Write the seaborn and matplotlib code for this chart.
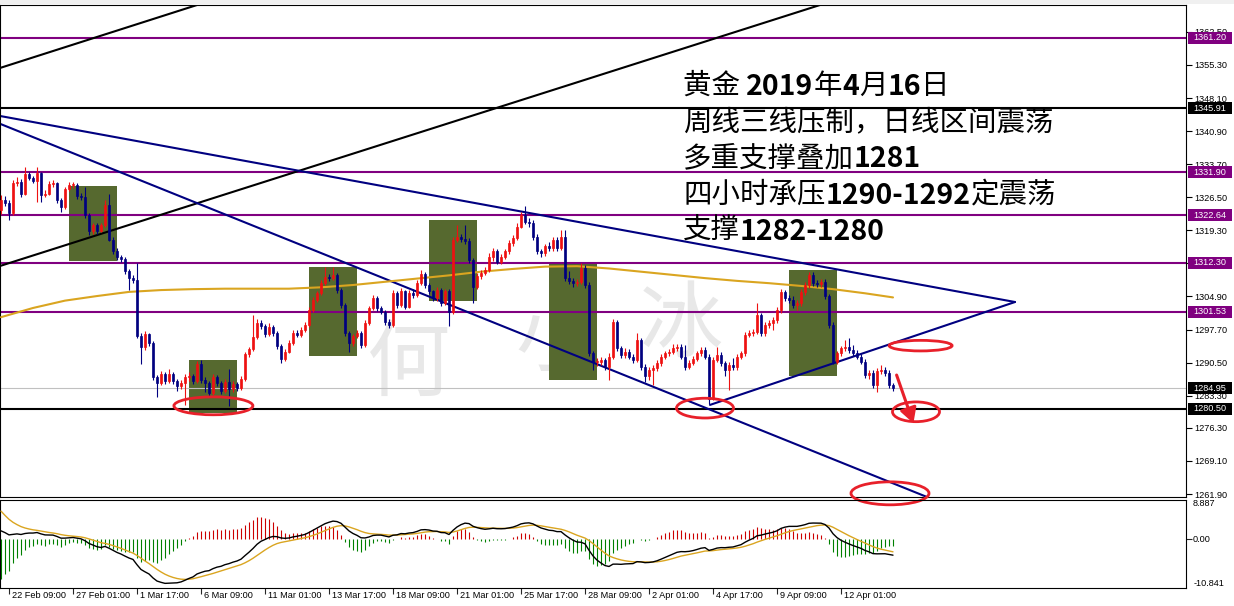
import numpy as np
import pandas as pd
import matplotlib
matplotlib.use("Agg")
import matplotlib.pyplot as plt
import matplotlib.transforms as mtransforms
from matplotlib.patches import Rectangle, Ellipse, FancyArrowPatch
import seaborn as sns

# ---------------------------------------------------------------- data
# XAUUSD H4 candles, 22 Feb 2019 05:00 .. 16 Apr 2019 01:00 (bar index 0..223)
first_open = 1323.7
close = [
    1326.0, 1325.2, 1323.0, 1329.5, 1329.9, 1327.3, 1331.6, 1330.8, 1330.1, 1331.7,
    1327.0, 1327.3, 1329.4, 1329.5, 1326.0, 1324.4, 1328.2, 1329.1, 1329.2, 1326.8,
    1326.5, 1322.6, 1319.1, 1320.4, 1319.2, 1320.4, 1324.8, 1317.3, 1314.9, 1313.4,
    1313.0, 1310.4, 1309.0, 1308.6, 1296.3, 1293.8, 1296.7, 1294.8, 1287.3, 1286.1,
    1288.0, 1286.5, 1288.0, 1286.5, 1285.4, 1286.0, 1287.4, 1287.6, 1286.5, 1290.2,
    1286.8, 1286.1, 1283.9, 1287.3, 1286.1, 1284.3, 1286.2, 1284.7, 1285.8, 1285.0,
    1286.9, 1292.3, 1293.4, 1296.0, 1299.2, 1298.4, 1296.7, 1298.2, 1297.0, 1294.1,
    1291.2, 1292.9, 1294.8, 1297.0, 1296.6, 1297.6, 1298.7, 1302.0, 1304.1, 1305.6,
    1307.8, 1309.2, 1308.9, 1309.6, 1306.3, 1303.1, 1296.9, 1294.7, 1296.2, 1296.9,
    1294.3, 1299.1, 1302.3, 1304.5, 1302.3, 1301.6, 1299.4, 1298.7, 1305.6, 1303.1,
    1306.0, 1302.7, 1305.6, 1305.2, 1307.8, 1309.9, 1307.4, 1306.0, 1304.5, 1306.3,
    1303.4, 1306.0, 1301.6, 1317.2, 1317.9, 1317.4, 1317.0, 1312.9, 1307.0, 1309.4,
    1310.0, 1310.7, 1313.6, 1314.7, 1312.5, 1313.6, 1314.7, 1316.5, 1317.6, 1320.1,
    1322.6, 1321.2, 1320.8, 1317.9, 1314.7, 1314.3, 1315.8, 1315.4, 1317.2, 1315.4,
    1317.9, 1308.9, 1308.3, 1307.8, 1308.1, 1311.2, 1307.4, 1292.5, 1290.6, 1290.7,
    1291.0, 1289.6, 1291.8, 1299.4, 1293.6, 1292.2, 1292.9, 1291.8, 1291.1, 1295.4,
    1289.6, 1287.5, 1288.9, 1289.3, 1290.4, 1291.8, 1292.5, 1292.9, 1293.6, 1294.0,
    1291.8, 1289.6, 1290.4, 1291.4, 1292.5, 1293.3, 1291.8, 1282.6, 1291.1, 1292.2,
    1290.4, 1288.9, 1290.0, 1289.6, 1291.8, 1292.5, 1296.5, 1296.9, 1297.2, 1300.9,
    1296.9, 1298.7, 1299.1, 1299.8, 1302.0, 1305.9, 1304.5, 1304.2, 1303.1, 1303.4,
    1305.9, 1307.4, 1309.6, 1307.8, 1307.6, 1308.1, 1304.9, 1298.7, 1290.7, 1292.5,
    1293.6, 1294.0, 1293.3, 1292.6, 1291.8, 1290.7, 1287.8, 1288.2, 1285.6, 1288.6,
    1288.9, 1288.2, 1285.6, 1284.95,
]
high = [
    1327.0, 1326.8, 1326.0, 1330.2, 1331.0, 1330.4, 1333.1, 1332.0, 1331.2, 1333.1,
    1332.0, 1328.0, 1330.0, 1330.3, 1329.8, 1326.4, 1328.8, 1329.8, 1329.9, 1329.5,
    1327.4, 1328.8, 1323.0, 1321.0, 1320.8, 1321.0, 1325.8, 1327.3, 1317.8, 1315.4,
    1314.0, 1313.4, 1310.8, 1309.6, 1312.1, 1297.0, 1297.3, 1297.0, 1295.2, 1287.8,
    1288.6, 1288.5, 1289.2, 1288.4, 1287.0, 1286.8, 1288.0, 1288.4, 1288.0, 1290.8,
    1291.0, 1287.3, 1286.6, 1288.0, 1287.8, 1286.6, 1286.9, 1289.2, 1286.4, 1286.3,
    1287.6, 1292.9, 1294.0, 1300.8, 1300.0, 1299.8, 1298.9, 1299.2, 1298.7, 1297.4,
    1294.5, 1293.5, 1295.5, 1297.6, 1297.6, 1298.2, 1299.4, 1302.6, 1304.8, 1306.2,
    1308.4, 1311.4, 1309.8, 1311.4, 1310.0, 1306.8, 1303.5, 1297.4, 1296.8, 1297.6,
    1297.4, 1299.7, 1302.9, 1305.3, 1304.9, 1302.8, 1302.0, 1299.9, 1306.3, 1306.0,
    1306.7, 1306.4, 1306.3, 1306.6, 1308.4, 1310.6, 1310.3, 1307.9, 1306.4, 1307.0,
    1306.8, 1306.6, 1306.5, 1317.9, 1320.5, 1318.5, 1320.5, 1317.6, 1313.2, 1310.0,
    1310.6, 1311.4, 1314.4, 1315.4, 1315.2, 1314.2, 1315.3, 1317.2, 1318.3, 1320.8,
    1323.4, 1324.5, 1322.0, 1321.6, 1318.4, 1315.3, 1316.4, 1316.8, 1317.9, 1317.8,
    1319.4, 1319.4, 1310.4, 1309.0, 1308.8, 1312.3, 1311.8, 1308.0, 1293.0, 1291.6,
    1291.8, 1291.6, 1292.5, 1300.1, 1299.8, 1294.2, 1293.6, 1293.5, 1292.4, 1296.9,
    1295.9, 1290.2, 1289.5, 1290.0, 1291.0, 1292.4, 1293.1, 1293.5, 1294.6, 1294.6,
    1294.6, 1294.3, 1291.0, 1292.0, 1293.1, 1294.0, 1293.9, 1292.3, 1291.7, 1294.0,
    1292.8, 1290.9, 1290.7, 1291.5, 1292.4, 1293.1, 1297.1, 1297.5, 1297.8, 1303.4,
    1301.4, 1299.3, 1299.7, 1300.4, 1302.7, 1306.6, 1306.4, 1305.2, 1305.0, 1304.1,
    1306.5, 1308.0, 1310.3, 1310.2, 1308.6, 1308.8, 1308.7, 1305.5, 1299.3, 1293.1,
    1294.2, 1295.5, 1295.8, 1294.3, 1293.2, 1292.4, 1291.3, 1288.9, 1288.8, 1289.3,
    1290.0, 1289.5, 1288.8, 1286.0,
]
low = [
    1322.8, 1324.5, 1321.5, 1322.6, 1329.0, 1326.6, 1327.0, 1330.2, 1329.5, 1325.5,
    1325.4, 1326.5, 1327.0, 1328.8, 1325.3, 1323.3, 1324.0, 1327.8, 1328.6, 1326.2,
    1325.9, 1322.0, 1318.2, 1318.6, 1318.5, 1318.9, 1320.0, 1317.0, 1314.2, 1312.8,
    1312.4, 1309.8, 1306.3, 1307.9, 1295.9, 1290.3, 1293.3, 1294.2, 1286.8, 1283.1,
    1285.6, 1285.9, 1286.1, 1285.9, 1284.3, 1284.8, 1281.2, 1286.6, 1285.8, 1286.0,
    1286.0, 1284.0, 1283.0, 1283.4, 1285.4, 1283.6, 1283.8, 1281.0, 1284.2, 1284.4,
    1284.6, 1286.5, 1291.8, 1293.0, 1295.6, 1297.8, 1296.0, 1296.3, 1296.4, 1293.5,
    1290.4, 1290.8, 1292.5, 1294.4, 1296.0, 1296.1, 1297.2, 1298.3, 1301.6, 1303.6,
    1305.2, 1307.4, 1308.3, 1308.5, 1305.7, 1302.5, 1296.3, 1292.9, 1294.2, 1295.8,
    1293.7, 1293.9, 1298.7, 1301.9, 1301.7, 1301.0, 1298.8, 1298.0, 1298.3, 1302.5,
    1302.7, 1302.1, 1302.3, 1304.6, 1304.8, 1307.4, 1306.8, 1305.4, 1303.9, 1304.0,
    1302.8, 1303.0, 1298.4, 1301.0, 1316.8, 1316.8, 1316.4, 1312.3, 1303.4, 1306.5,
    1308.8, 1309.5, 1310.2, 1312.6, 1311.9, 1312.0, 1313.1, 1314.2, 1316.0, 1317.2,
    1319.8, 1320.6, 1320.0, 1317.2, 1314.1, 1313.6, 1313.8, 1314.8, 1314.9, 1314.8,
    1315.0, 1308.2, 1307.6, 1307.0, 1307.2, 1307.6, 1306.8, 1292.0, 1288.9, 1289.8,
    1290.0, 1289.0, 1286.7, 1291.2, 1293.0, 1291.6, 1291.6, 1291.2, 1290.4, 1290.6,
    1289.0, 1286.2, 1286.8, 1285.6, 1288.7, 1289.8, 1291.2, 1292.0, 1292.4, 1293.0,
    1291.2, 1289.0, 1289.2, 1289.9, 1290.9, 1292.0, 1291.2, 1281.6, 1282.3, 1290.6,
    1289.8, 1287.5, 1284.6, 1288.8, 1289.0, 1291.2, 1291.9, 1296.0, 1296.4, 1296.8,
    1296.2, 1296.4, 1298.0, 1297.6, 1299.2, 1301.4, 1303.9, 1303.5, 1302.5, 1301.9,
    1302.8, 1305.3, 1306.8, 1307.2, 1306.9, 1306.9, 1304.3, 1298.1, 1290.1, 1290.2,
    1292.0, 1293.0, 1292.7, 1292.0, 1291.2, 1290.1, 1287.2, 1287.0, 1285.0, 1284.2,
    1288.0, 1287.6, 1285.0, 1284.3,
]

# slow moving average, sampled along the window
ma_bar = [0, 8, 16, 24, 32, 40, 48, 56, 64, 72, 80, 88, 96, 104, 112, 120, 128,
          136, 144, 152, 160, 168, 176, 184, 192, 200, 208, 216, 223]
ma_val = [1300.4, 1302.4, 1304.0, 1305.0, 1305.9, 1306.3, 1306.5, 1306.6, 1306.6,
          1306.6, 1306.9, 1307.4, 1308.1, 1308.8, 1309.5, 1310.3, 1310.9, 1311.4,
          1311.5, 1311.0, 1310.3, 1309.6, 1308.9, 1308.3, 1307.8, 1307.2, 1306.5,
          1305.6, 1304.7]

# MACD(12,26,9) state carried in from the bars before the window
ema12_start = 1328.4
ema26_start = 1326.5
signal_start = 6.3
macd_top, macd_bottom = 8.887, -10.841

purple_levels = [1361.20, 1331.90, 1322.64, 1312.30, 1301.53]
black_levels = [1345.91, 1280.50]
bid_price = 1284.95
price_ticks = [1362.50, 1355.30, 1348.10, 1340.90, 1333.70, 1326.50, 1319.30,
               1312.10, 1304.90, 1297.70, 1290.50, 1283.30, 1276.30, 1269.10, 1261.90]

time_labels = ["22 Feb 09:00", "27 Feb 01:00", "1 Mar 17:00", "6 Mar 09:00",
               "11 Mar 01:00", "13 Mar 17:00", "18 Mar 09:00", "21 Mar 01:00",
               "25 Mar 17:00", "28 Mar 09:00", "2 Apr 01:00", "4 Apr 17:00",
               "9 Apr 09:00", "12 Apr 01:00"]
time_label_bar = [2, 18, 34, 50, 66, 82, 98, 114, 130, 146, 162, 178, 194, 210]

# trend lines: (bar, price) pairs
rays = [((-0.25, 1354.65), (49.0, 1368.36), "black"),
        ((-0.25, 1311.54), (204.75, 1368.36), "black"),
        ((-0.25, 1342.50), (231.5, 1261.25), "#000080")]
segments = [((-0.25, 1344.20), (253.5, 1303.70)),
            ((177.25, 1281.30), (253.5, 1303.70))]

# shaded zones: bar_from, bar_to, price_low, price_high
zones = [(17, 29, 1312.63, 1328.96), (47, 59, 1279.54, 1291.08),
         (77, 89, 1291.95, 1311.32), (107, 119, 1303.92, 1321.56),
         (137, 149, 1286.72, 1312.41), (197, 209, 1287.60, 1310.67)]

# red rings: bar, price, width (bars), height (price)
rings = [(53.1, 1281.1, 19.75, 3.9), (176.0, 1280.6, 14.25, 4.3),
         (229.9, 1294.2, 15.75, 2.3), (228.75, 1279.8, 11.75, 4.3),
         (222.25, 1262.05, 19.5, 5.0)]
arrow_from = (223.9, 1287.8)
arrow_to = (228.1, 1277.3)

note_lines = [
    [("黄金 ", False), ("2019", True), ("年", False), ("4", True), ("月", False),
     ("16", True), ("日", False)],
    [("周线三线压制，日线区间震荡", False)],
    [("多重支撑叠加", False), ("1281", True)],
    [("四小时承压", False), ("1290-1292", True), ("定震荡", False)],
    [("支撑", False), ("1282-1280", True)],
]

# ---------------------------------------------------------------- style
sns.set_theme(style="white")
plt.rcParams["font.family"] = ["Liberation Sans", "Noto Sans CJK SC", "DejaVu Sans"]
plt.rcParams["axes.edgecolor"] = "black"
plt.rcParams["axes.linewidth"] = 0.8

W, H = 1234, 606
RED = "#ee1111"
NAVY = "#000080"
PURPLE = "#800080"
GOLD = "#DAA520"
RING = "#e8202a"

fig = plt.figure(figsize=(W / 100, H / 100), dpi=100, facecolor="white")
ax = fig.add_axes([0, 1 - 497 / H, 1186 / W, 492 / H])
ax2 = fig.add_axes([0, 1 - 588 / H, 1186 / W, 88.5 / H])
ax2.patch.set_alpha(0)

# window chrome strip along the top edge
fig.patches.append(Rectangle((0, 1 - 4 / H), 1, 4 / H, transform=fig.transFigure,
                             facecolor="#f0f0f0", edgecolor="none", zorder=0))

bars = np.arange(len(close))
c = np.array(close)
o = np.concatenate([[first_open], c[:-1]])
hi = np.maximum(np.array(high), np.maximum(o, c))
lo = np.minimum(np.array(low), np.minimum(o, c))
up = c >= o
cols = np.where(up, RED, NAVY)

ax.set_xlim(-0.25, 296.25)
ax.set_ylim(1261.25, 1368.36)
ax2.set_xlim(-0.25, 296.25)
ax2.set_ylim(macd_bottom, macd_top)

# zones
for b0, b1, p0, p1 in zones:
    ax.add_patch(Rectangle((b0, p0), b1 - b0, p1 - p0, facecolor="#56692f",
                           edgecolor="none", zorder=1))

# faint signature
for ch, bx, py in [("何", 102, 1290.0), ("小", 139, 1295.5), ("冰", 170, 1298.5)]:
    ax.text(bx, py, ch, fontsize=60, color="#e8e8e8", ha="center", va="center",
            family=["Noto Sans CJK SC"], zorder=0.5)

# horizontal levels
for lv in purple_levels:
    ax.axhline(lv, color=PURPLE, lw=1.5, zorder=2)
for lv in black_levels:
    ax.axhline(lv, color="black", lw=1.5, zorder=2)
ax.axhline(bid_price, color="#c0c0c0", lw=0.8, zorder=2)

# trend lines
for p0, p1, col in rays:
    ax.axline(p0, p1, color=col, lw=1.5, zorder=2)
for p0, p1 in segments:
    ax.plot([p0[0], p1[0]], [p0[1], p1[1]], color=NAVY, lw=1.5, zorder=2)

# moving average
sns.lineplot(x=ma_bar, y=ma_val, ax=ax, color=GOLD, lw=1.5, zorder=3)

# candles
ax.vlines(bars, lo, hi, colors=cols, lw=0.8, zorder=4)
body_lo = np.minimum(o, c)
body_h = np.maximum(np.abs(c - o), 0.2)
ax.bar(bars, body_h, bottom=body_lo, width=0.6, color=cols, edgecolor=cols,
       lw=0.5, zorder=5)

# rings and arrow
for bx, py, bw, ph in rings:
    ax.add_patch(Ellipse((bx, py), bw, ph, facecolor="none", edgecolor=RING,
                         lw=2.0, zorder=7, clip_on=False))
ax.add_patch(FancyArrowPatch(arrow_from, arrow_to,
                             arrowstyle="-|>,head_length=9,head_width=5",
                             color=RING, lw=2.2, zorder=7, clip_on=False,
                             shrinkA=0, shrinkB=0))

# price axis
ax.yaxis.tick_right()
ax.set_yticks(price_ticks)
ax.set_yticklabels([f"{t:.2f}" for t in price_ticks])
ax.tick_params(axis="y", direction="out", length=4, width=0.8, pad=2,
               labelsize=6.6, colors="black", left=False, right=True)
ax.set_xticks([])
ax.set_xlabel("")
ax.set_ylabel("")
for s in ax.spines.values():
    s.set_color("black")
    s.set_linewidth(0.8)

right_tr = mtransforms.blended_transform_factory(ax.transAxes, ax.transData)
box_w = 44 / 1186
box_h = 12 / 4.593
for lv, fc in ([(v, PURPLE) for v in purple_levels] + [(v, "black") for v in black_levels]
               + [(bid_price, "black")]):
    ax.add_patch(Rectangle((1.0017, lv - box_h / 2), box_w, box_h, transform=right_tr,
                           facecolor=fc, edgecolor="none", clip_on=False, zorder=8))
    ax.text(1.0017 + box_w / 2, lv, f"{lv:.2f}", transform=right_tr, ha="center",
            va="center", color="white", fontsize=6.6, zorder=9, clip_on=False)

# annotation block: each row is a chain of regular / bold runs
for i, parts in enumerate(note_lines):
    y_bottom = 101 + 36.2 * i
    prev = None
    for txt, bold in parts:
        kw = dict(fontsize=20.5, family=["Noto Sans CJK SC", "DejaVu Sans"],
                  weight="bold" if bold else "normal", color="black", zorder=10)
        if prev is None:
            prev = fig.text(683 / W, 1 - y_bottom / H, txt, ha="left", va="bottom", **kw)
        else:
            prev = ax.annotate(txt, xy=(1, 0), xycoords=prev, ha="left", va="bottom",
                               annotation_clip=False, **kw)

# MACD panel
e12, e26 = ema12_start, ema26_start
dif = [e12 - e26]
for px in c[1:]:
    e12 = e12 + (2 / 13) * (px - e12)
    e26 = e26 + (2 / 27) * (px - e26)
    dif.append(e12 - e26)
dif = np.array(dif)
dea = [signal_start]
for v in dif[1:]:
    dea.append(dea[-1] + 0.2 * (v - dea[-1]))
dea = np.array(dea)
hist = 2 * (dif - dea)

ax2.vlines(bars, 0, hist, colors=np.where(hist >= 0, "#cc0000", "#008000"),
           lw=0.8, zorder=2)
macd_df = pd.DataFrame({"bar": bars, "dif": dif, "dea": dea})
sns.lineplot(data=macd_df, x="bar", y="dea", ax=ax2, color=GOLD, lw=1.0, zorder=3)
sns.lineplot(data=macd_df, x="bar", y="dif", ax=ax2, color="black", lw=1.0, zorder=4)
ax2.set_xlabel("")
ax2.set_ylabel("")
for s in ax2.spines.values():
    s.set_color("black")
    s.set_linewidth(0.8)

ax2.set_yticks([0.0])
ax2.set_yticklabels([""])
ax2.yaxis.tick_right()
ax2.tick_params(axis="y", direction="out", length=4, width=0.8, left=False, right=True)
r2 = mtransforms.blended_transform_factory(ax2.transAxes, ax2.transData)
ax2.text(1.006, macd_top, f"{macd_top:.3f}", transform=r2, ha="left", va="top",
         fontsize=6.6, color="black")
ax2.text(1.006, 0.0, "0.00", transform=r2, ha="left", va="center",
         fontsize=6.6, color="black")
ax2.text(1.006, macd_bottom, f"{macd_bottom:.3f}", transform=r2, ha="left",
         va="bottom", fontsize=6.6, color="black")

ax2.set_xticks(time_label_bar)
ax2.set_xticklabels([""] * len(time_label_bar))
ax2.tick_params(axis="x", direction="out", length=4, width=0.8, bottom=True, pad=1)
bt = mtransforms.blended_transform_factory(ax2.transData, ax2.transAxes)
for b, lab in zip(time_label_bar, time_labels):
    ax2.text(b + 0.8, -0.03, lab, transform=bt, ha="left", va="top",
             fontsize=6.6, color="black", clip_on=False)

fig.savefig("out.png", dpi=100, facecolor="white")
